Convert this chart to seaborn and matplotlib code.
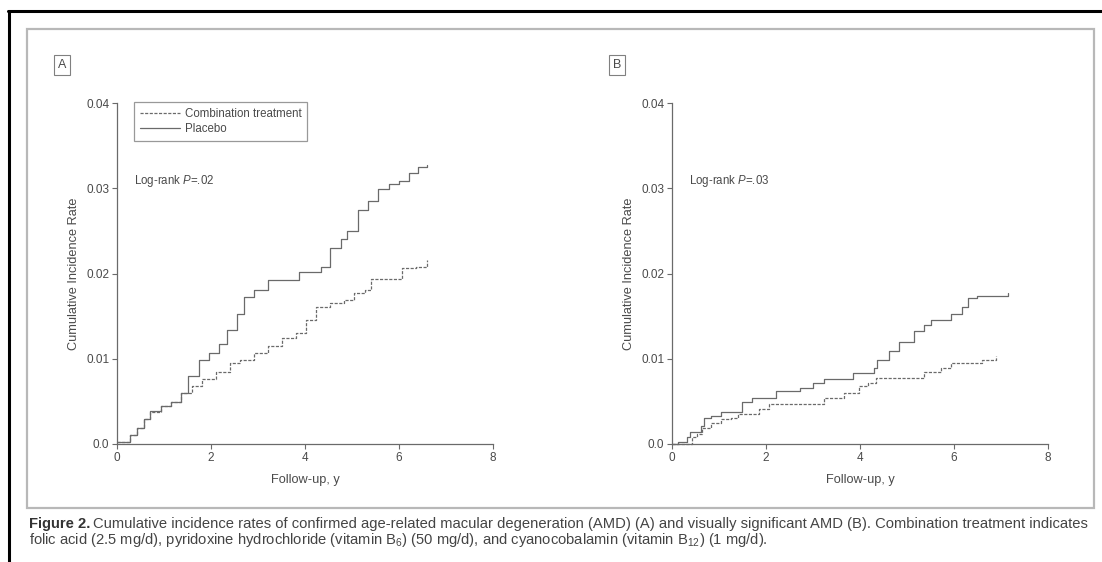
import numpy as np
import pandas as pd
import seaborn as sns
import matplotlib.pyplot as plt
from matplotlib.lines import Line2D
from matplotlib.patches import Rectangle

# step points (years, cumulative incidence)
a_plac_t = [0, 0.27, 0.42, 0.57, 0.71, 0.93, 1.15, 1.37, 1.5, 1.74, 1.96, 2.18, 2.33, 2.55, 2.7, 2.92,
            3.21, 3.8, 3.87, 4.17, 4.35, 4.53, 4.76, 4.9, 5.12, 5.34, 5.56, 5.78, 6.0, 6.22, 6.41, 6.59]
a_plac_v = [0.0002, 0.001, 0.0019, 0.0029, 0.0039, 0.0045, 0.0049, 0.006, 0.008, 0.0099, 0.0107, 0.0117,
            0.0134, 0.0153, 0.0173, 0.0181, 0.0192, 0.0192, 0.0202, 0.0202, 0.0208, 0.023, 0.024, 0.025,
            0.0274, 0.0285, 0.0299, 0.0305, 0.0309, 0.0318, 0.0325, 0.0327]
a_comb_t = [0, 0.27, 0.42, 0.57, 0.71, 0.93, 1.15, 1.37, 1.59, 1.81, 2.11, 2.4, 2.62, 2.92, 3.21, 3.5,
            3.8, 4.02, 4.24, 4.53, 4.83, 5.05, 5.27, 5.41, 5.85, 6.07, 6.37, 6.59]
a_comb_v = [0.0002, 0.001, 0.0019, 0.0029, 0.0038, 0.0044, 0.0049, 0.006, 0.0068, 0.0076, 0.0085, 0.0095,
            0.0099, 0.0107, 0.0115, 0.0124, 0.013, 0.0145, 0.0161, 0.0165, 0.0169, 0.0177, 0.0181, 0.0194,
            0.0194, 0.0206, 0.0208, 0.0216]

b_plac_t = [0, 0.13, 0.31, 0.39, 0.61, 0.68, 0.83, 1.04, 1.48, 1.7, 2.21, 2.72, 3.0, 3.24, 3.85, 4.29,
            4.37, 4.62, 4.84, 5.14, 5.36, 5.5, 5.94, 6.16, 6.3, 6.49, 7.15]
b_plac_v = [0, 0.0002, 0.0008, 0.0014, 0.0021, 0.0031, 0.0033, 0.0037, 0.0049, 0.0054, 0.0062, 0.0066,
            0.0072, 0.0076, 0.0083, 0.0089, 0.0099, 0.0109, 0.012, 0.0132, 0.014, 0.0146, 0.0153, 0.0161,
            0.0171, 0.0174, 0.0177]
b_comb_t = [0, 0.42, 0.53, 0.64, 0.83, 1.04, 1.26, 1.41, 1.85, 2.07, 3.24, 3.67, 3.97, 4.18, 4.33, 5.36,
            5.72, 5.94, 6.6, 6.89]
b_comb_v = [0, 0.0008, 0.0012, 0.0019, 0.0025, 0.0029, 0.0031, 0.0035, 0.0041, 0.0047, 0.0054, 0.006,
            0.0068, 0.0072, 0.0078, 0.0085, 0.0089, 0.0095, 0.0099, 0.0103]

panel_labels = ["A", "B"]
p_values = [".02", ".03"]
x_ticks = [0, 2, 4, 6, 8]
y_ticks = [0.0, 0.01, 0.02, 0.03, 0.04]
y_ticklabels = ["0.0", "0.01", "0.02", "0.03", "0.04"]

sns.set_style("white")
plt.rcParams["font.family"] = ["Liberation Sans", "DejaVu Sans"]
plt.rcParams["mathtext.fontset"] = "custom"
plt.rcParams["mathtext.rm"] = "Liberation Sans"
plt.rcParams["mathtext.it"] = "Liberation Sans:italic"

gray = "#6a6a6a"
txt = "#4a4a4a"
W, H = 1102, 562


def make_df(t, v, name):
    return pd.DataFrame({"t": t, "v": v, "group": name})


data_a = pd.concat([make_df(a_comb_t, a_comb_v, "Combination treatment"),
                    make_df(a_plac_t, a_plac_v, "Placebo")])
data_b = pd.concat([make_df(b_comb_t, b_comb_v, "Combination treatment"),
                    make_df(b_plac_t, b_plac_v, "Placebo")])

fig = plt.figure(figsize=(W / 100, H / 100), dpi=100)

# outer borders
fig.add_artist(Line2D([8 / W, 1], [1 - 11 / H, 1 - 11 / H], color="black", lw=2.2))
fig.add_artist(Line2D([9 / W, 9 / W], [0, 1 - 11 / H], color="black", lw=2.2))
fig.add_artist(Rectangle((27 / W, 1 - 508 / H), (1094 - 27) / W, (508 - 29) / H,
                         transform=fig.transFigure, fill=False, ec="#b8b8b8", lw=1.6))

positions = [[117 / W, 1 - 444 / H, 376 / W, 341 / H],
             [672 / W, 1 - 444 / H, 376 / W, 341 / H]]

for i, df in enumerate([data_a, data_b]):
    ax = fig.add_axes(positions[i])
    sns.lineplot(data=df, x="t", y="v", style="group", estimator=None, sort=False,
                 color=gray, linewidth=0.9, drawstyle="steps-post", ax=ax,
                 dashes={"Combination treatment": (2.5, 1.2), "Placebo": ""},
                 style_order=["Combination treatment", "Placebo"], clip_on=False)
    ax.set_xlim(0, 8)
    ax.set_ylim(0, 0.04)
    ax.set_xticks(x_ticks)
    ax.set_yticks(y_ticks)
    ax.set_yticklabels(y_ticklabels)
    ax.tick_params(axis="both", direction="out", length=3.5, width=0.8, colors=gray,
                   labelsize=8.5, pad=2, bottom=True, left=True)
    for lab in ax.get_xticklabels() + ax.get_yticklabels():
        lab.set_color(txt)
    sns.despine(ax=ax)
    for s in ["left", "bottom"]:
        ax.spines[s].set_color(gray)
        ax.spines[s].set_linewidth(0.9)
    ax.set_xlabel("Follow-up, y", fontsize=9.2, color=txt)
    ax.set_ylabel("Cumulative Incidence Rate", fontsize=9.2, color=txt)
    ax.xaxis.set_label_coords(0.5, -0.088)
    ax.yaxis.set_label_coords(-0.098, 0.5)
    ax.text(0.045, 0.771, "Log-rank $\\it{P}$=" + p_values[i], transform=ax.transAxes,
            fontsize=8.3, color=txt, va="center")
    ax.text(-0.146, 1.111, panel_labels[i], transform=ax.transAxes, fontsize=9, color=txt,
            va="center", ha="center",
            bbox=dict(boxstyle="square,pad=0.3", fc="white", ec="#808080", lw=0.8))
    if i == 0:
        leg = ax.legend(loc="upper left", bbox_to_anchor=(0.045, 1.003), fontsize=8.3,
                        frameon=True, fancybox=False, handlelength=3.5, handletextpad=0.4,
                        borderpad=0.5, labelspacing=0.3, borderaxespad=0)
        leg.get_frame().set_edgecolor("#808080")
        leg.get_frame().set_linewidth(0.9)
        for t in leg.get_texts():
            t.set_color(txt)
        for h in leg.get_lines():
            h.set_color(gray)
    else:
        ax.get_legend().remove()

# caption, bold lead-in followed by regular text
lead = fig.text(29 / W, 1 - 524 / H, "Figure 2.", fontsize=10.6, fontweight="bold", color="#333",
                va="center")
fig.canvas.draw()
bb = lead.get_window_extent(renderer=fig.canvas.get_renderer())
fig.text((bb.x1 + 3) / W, 1 - 524 / H,
         "Cumulative incidence rates of confirmed age-related macular degeneration (AMD) (A) and "
         "visually significant AMD (B). Combination treatment indicates",
         fontsize=10.6, color="#444", va="center")
fig.text(29 / W, 1 - 540 / H,
         "folic acid (2.5 mg/d), pyridoxine hydrochloride (vitamin B$_{6}$) (50 mg/d), and "
         "cyanocobalamin (vitamin B$_{12}$) (1 mg/d).",
         fontsize=10.6, color="#444", va="center")

fig.savefig("out.png", dpi=100)
